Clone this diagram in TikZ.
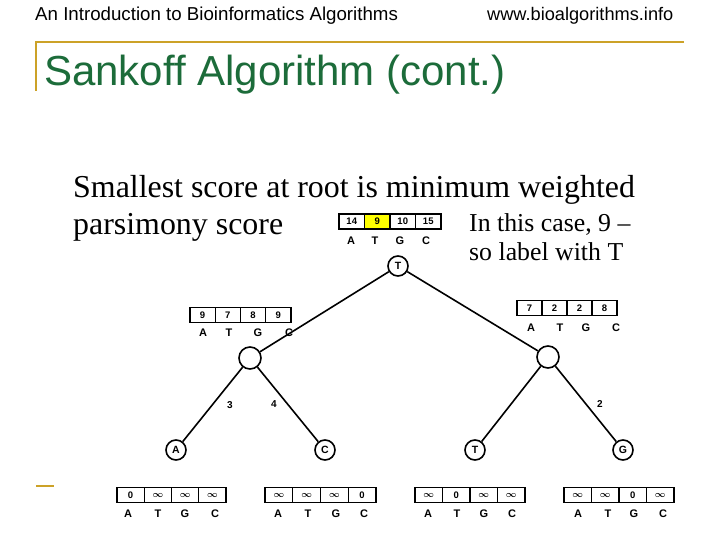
\documentclass[tikz,border=0pt]{standalone}
\usepackage{fontspec}
\setmainfont{Liberation Serif}
\setsansfont{Liberation Sans}
\usetikzlibrary{calc}
\definecolor{gold}{RGB}{204,162,40}
\definecolor{titlegreen}{RGB}{28,108,58}
\definecolor{hiyellow}{RGB}{255,255,0}
\newcommand\scorerow[8]{%
  \node[cell, minimum width=#4pt] (#1a) at ({#2+0.5*#4},#3) {#5};
  \node[cell, minimum width=#4pt] (#1t) at ({#2+1.5*#4},#3) {#6};
  \node[cell, minimum width=#4pt] (#1g) at ({#2+2.5*#4},#3) {#7};
  \node[cell, minimum width=#4pt] (#1c) at ({#2+3.5*#4},#3) {#8};
}
\newcommand\baserow[6]{%
  \node[base] (#1A) at (#2,#6) {A};
  \node[base] (#1T) at (#3,#6) {T};
  \node[base] (#1G) at (#4,#6) {G};
  \node[base] (#1C) at (#5,#6) {C};
}
\newcommand\inft{$\boldsymbol{\infty}$}
\usepackage{amsmath,amssymb}
\begin{document}
\begin{tikzpicture}[x=1pt,y=-1pt,
  cell/.style={draw, line width=1.2pt, minimum height=15pt, inner sep=0pt,
    font=\sffamily\bfseries\fontsize{9.5}{9.5}\selectfont, fill=white},
  base/.style={font=\sffamily\bfseries\fontsize{11}{11}\selectfont, inner sep=0pt},
  tnode/.style={circle, draw, line width=1.6pt, minimum size=20pt, inner sep=0pt,
    font=\sffamily\bfseries\fontsize{10.5}{10.5}\selectfont, fill=white},
  edge/.style={line width=1.6pt},
  elabel/.style={font=\sffamily\bfseries\fontsize{10}{10}\selectfont, inner sep=0pt},
  goldline/.style={draw=gold, line width=2.5pt},
  header/.style={font=\sffamily\fontsize{18.7}{18.7}\selectfont, inner sep=0pt, anchor=base west},
  body/.style={font=\rmfamily\fontsize{31.9}{31.9}\selectfont, inner sep=0pt, anchor=base west},
  note/.style={font=\rmfamily\fontsize{25.8}{25.8}\selectfont, inner sep=0pt, anchor=base west}
]
\useasboundingbox[fill=white] (0,0) rectangle (720,540);

% header and title
\node[header] (hl) at (35,21) {An Introduction to Bioinformatics Algorithms};
\node[header, font=\sffamily\fontsize{18.2}{18.2}\selectfont] (hr) at (487,21) {www.bioalgorithms.info};
\coordinate (g1) at (36,42);
\coordinate (g2) at (684,42);
\coordinate (g3) at (36,91);
\draw[goldline] (g3) -- (g1) -- (g2);
\coordinate (d1) at (36,486);
\coordinate (d2) at (54,486);
\draw[goldline, line width=2pt] (d1) -- (d2);
\node[font=\sffamily\fontsize{42}{42}\selectfont, text=titlegreen, inner sep=0pt, anchor=base west] (title) at (44,86) {Sankoff Algorithm (cont.)};

% body text
\node[body] (b1) at (73,197) {Smallest score at root is minimum weighted};
\node[body] (b2) at (73,235) {parsimony score};
\node[note] (n1) at (469,231) {In this case, 9 –};
\node[note] (n2) at (469,260) {so label with T};

% tree nodes
\node[tnode] (root) at (398,266) {T};
\node[tnode, minimum size=22pt] (li) at (250,358) {};
\node[tnode, minimum size=22pt] (ri) at (548,357) {};
\node[tnode] (la) at (176,450) {A};
\node[tnode] (lc) at (325,450) {C};
\node[tnode] (lt) at (475,450) {T};
\node[tnode] (lg) at (623,450) {G};

\draw[edge] (root) -- (li);
\draw[edge] (root) -- (ri);
\draw[edge] (li) -- (la);
\draw[edge] (li) -- (lc);
\draw[edge] (ri) -- (lt);
\draw[edge] (ri) -- (lg);

\node[elabel] (e3) at (230,405) {3};
\node[elabel] (e4) at (274,404) {4};
\node[elabel] (e2) at (600,404) {2};

% root table
\node[cell, minimum width=25.5pt] (ra) at (351.75,221.5) {14};
\node[cell, minimum width=25.5pt, fill=hiyellow] (rt) at (377.25,221.5) {9};
\node[cell, minimum width=25.5pt] (rg) at (402.75,221.5) {10};
\node[cell, minimum width=25.5pt] (rc) at (428.25,221.5) {15};
\baserow{rb}{351}{375}{400}{426}{241}

% internal tables
\scorerow{l}{190}{315}{25.25}{9}{7}{8}{9}
\baserow{lb}{203}{229}{258}{289}{333}
\scorerow{r}{517}{308}{25}{7}{2}{2}{8}
\baserow{rr}{531}{560}{586}{616}{328}

% leaf tables
\scorerow{p}{117}{495}{27.25}{0}{\inft}{\inft}{\inft}
\baserow{pb}{128}{158}{185}{215}{514}
\scorerow{q}{265}{495}{27.75}{\inft}{\inft}{\inft}{0}
\baserow{qb}{278}{308}{336}{364}{514}
\scorerow{s}{415}{495}{27.5}{\inft}{0}{\inft}{\inft}
\baserow{sb}{428}{457}{484}{512}{514}
\scorerow{u}{564}{495}{27.5}{\inft}{\inft}{0}{\inft}
\baserow{ub}{578}{608}{634}{663}{514}
\end{tikzpicture}
\end{document}
